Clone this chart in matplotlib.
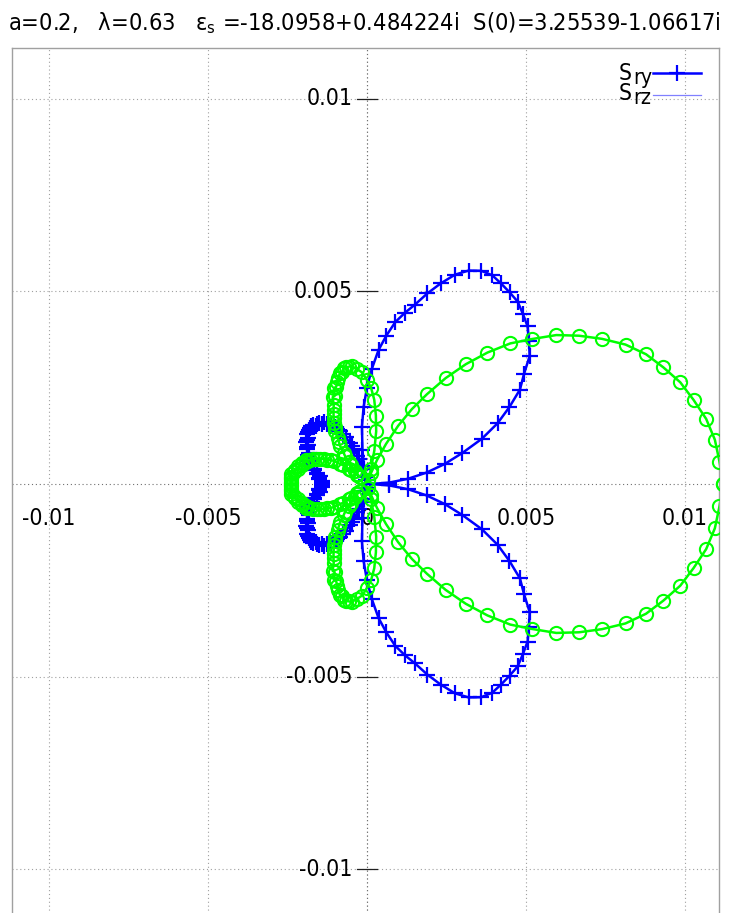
import numpy as np
import matplotlib
matplotlib.use('Agg')
import matplotlib.pyplot as plt
from matplotlib.lines import Line2D

# polar angle grid (deg); curves are mirror symmetric about the x axis,
# the small lobes are sampled more finely
theta_ry = list(range(0, 106, 3)) + [106.5 + 1.5 * i for i in range(50)]
theta_rz = list(range(0, 100, 3)) + [100.5 + 1.5 * i for i in range(54)]

r_ry = [0.0001, 0.0007, 0.0013, 0.0019, 0.0025, 0.0031, 0.0038, 0.0044, 0.0049, 0.0054,
        0.0057, 0.0061, 0.0063, 0.0065, 0.0066, 0.0067, 0.0067, 0.0067, 0.0067, 0.0066,
        0.0064, 0.0061, 0.0057, 0.0053, 0.0049, 0.0046, 0.0043, 0.0039, 0.0035, 0.0030,
        0.0025, 0.0020, 0.0015, 0.0009, 0.0004, 0.0001,
        # 106.5 .. 180 every 1.5 deg
        0.0002, 0.0004, 0.0005, 0.0007, 0.0008, 0.0010, 0.0011, 0.0012, 0.0014, 0.0015,
        0.0016, 0.0017, 0.0018, 0.0019, 0.0019, 0.0020, 0.0021, 0.0021, 0.0022, 0.0022,
        0.0022, 0.0023, 0.0023, 0.0023, 0.0023, 0.0023, 0.0023, 0.0022, 0.0022, 0.0022,
        0.0021, 0.0021, 0.0021, 0.0020, 0.0020, 0.0020, 0.0019, 0.0019, 0.0018, 0.0018,
        0.0017, 0.0017, 0.0016, 0.0016, 0.0015, 0.0015, 0.0015, 0.0014, 0.0014, 0.0014]

r_rz = [0.0112, 0.0111, 0.0110, 0.0108, 0.0105, 0.0102, 0.0098, 0.0094, 0.0089, 0.0083,
        0.0077, 0.0071, 0.0064, 0.0058, 0.0051, 0.0044, 0.0037, 0.0030, 0.0024, 0.0018,
        0.0012, 0.0007, 0.0003, 0.0001, 0.0004, 0.0009, 0.0014, 0.0018, 0.0022, 0.0025,
        0.0027, 0.0029, 0.0030, 0.0031,
        # 100.5 .. 180 every 1.5 deg
        0.0031, 0.0031, 0.0031, 0.0030, 0.0030, 0.0029, 0.0028, 0.0027, 0.0027, 0.0025,
        0.0025, 0.0023, 0.0022, 0.0021, 0.0020, 0.0019, 0.0018, 0.0017, 0.0015, 0.0014,
        0.0013, 0.0011, 0.0010, 0.0008, 0.0007, 0.0005, 0.0004, 0.0003, 0.0004, 0.0006,
        0.0007, 0.0009, 0.0010, 0.0012, 0.0013, 0.0014, 0.0015, 0.0016, 0.0017, 0.0018,
        0.0019, 0.0020, 0.0020, 0.0021, 0.0021, 0.0022, 0.0022, 0.0023, 0.0023, 0.0024,
        0.0024, 0.0024, 0.0024, 0.0024]

assert len(theta_ry) == len(r_ry) and len(theta_rz) == len(r_rz)

x_ticks = [-0.01, -0.005, 0, 0.005, 0.01]
x_ticklabels = ['-0.01', '-0.005', '0', '0.005', '0.01']
y_ticks = [0.01, 0.005, -0.005, -0.01]
y_ticklabels = ['0.01', '0.005', '-0.005', '-0.01']

title = 'a=0.2,   λ=0.63   ε$_\\mathregular{s}$ =-18.0958+0.484224i  S(0)=3.25539-1.06617i'
key_names = [('S', 'ry'), ('S', 'rz')]

plt.rcParams['font.family'] = ['DejaVu Sans']
plt.rcParams['font.stretch'] = 'condensed'

W, H = 729, 913
fig = plt.figure(figsize=(W / 100, H / 100), dpi=100)


def px(x, y):
    return x / W, 1 - y / H


# axes box: left 12, right 719, top 48, bottom just below the picture
l, t = px(12, 48)
r, b = px(719, 920)
ax = fig.add_axes([l, b, r - l, t - b])
ax.set_xlim(-0.01116, 0.01107)
ax.set_ylim(-0.01132, 0.01132)
ax.set_xticks([])
ax.set_yticks([])
for s in ax.spines.values():
    s.set_color('#a0a0a0')
    s.set_linewidth(1.0)

# grid and zero axes
dot = (0, (1, 2.5))
for xv in x_ticks:
    ax.axvline(xv, color='#a0a0a0', lw=0.8, ls=dot, zorder=0)
for yv in y_ticks:
    ax.axhline(yv, color='#a0a0a0', lw=0.8, ls=dot, zorder=0)
ax.axvline(0, color='#707070', lw=0.8, ls=dot, zorder=0)
ax.axhline(0, color='#707070', lw=0.8, ls=dot, zorder=0)

# tick marks on the y axis
for yv in y_ticks:
    ax.add_line(Line2D([-0.00032, 0.00032], [yv, yv], color='#202020', lw=0.9, zorder=1))

fs = 16.5
for xv, lab in zip(x_ticks, x_ticklabels):
    ax.annotate(lab, xy=(xv, 0), xytext=(0, -24.5), textcoords='offset points',
                ha='center', va='center', fontsize=fs, zorder=1)
for yv, lab in zip(y_ticks, y_ticklabels):
    ax.annotate(lab, xy=(0, yv), xytext=(-10.5, 0), textcoords='offset points',
                ha='right', va='center', fontsize=fs, zorder=1)

# curves
for th, rr, col, mk, ms, mew, lw in [(theta_ry, r_ry, '#0000ff', '+', 11, 1.6, 1.8),
                                     (theta_rz, r_rz, '#00ff00', 'o', 9.5, 1.5, 1.8)]:
    th = np.array(th, dtype=float)
    rr = np.array(rr)
    th_full = np.deg2rad(np.concatenate([th, 360 - th[-2::-1]]))
    rf = np.concatenate([rr, rr[-2::-1]])
    ax.plot(rf * np.cos(th_full), rf * np.sin(th_full), color=col, lw=lw,
            marker=mk, ms=ms, mew=mew, mfc='none', zorder=3)

# key (name right-aligned, subscript after it, sample to the right)
for (main, sub), yb in zip(key_names, [80, 100]):
    fig.text(*px(632, yb), main, ha='right', va='baseline', fontsize=fs)
    fig.text(*px(633, yb + 4), sub, ha='left', va='baseline', fontsize=fs * 0.92)
kx0, kx1 = 653, 701
fig.add_artist(Line2D([kx0 / W, kx1 / W], [1 - 73 / H] * 2, color='#0000ff', lw=1.8))
fig.add_artist(Line2D([(kx0 + kx1) / 2 / W], [1 - 73 / H], color='#0000ff', marker='+',
                      ms=11, mew=1.6))
fig.add_artist(Line2D([kx0 / W, kx1 / W], [1 - 95 / H] * 2, color='#8080ff', lw=0.9))

fig.text(0.5, 1 - 23 / H, title, ha='center', va='center', fontsize=16.9)

fig.savefig('out.png', dpi=100)
